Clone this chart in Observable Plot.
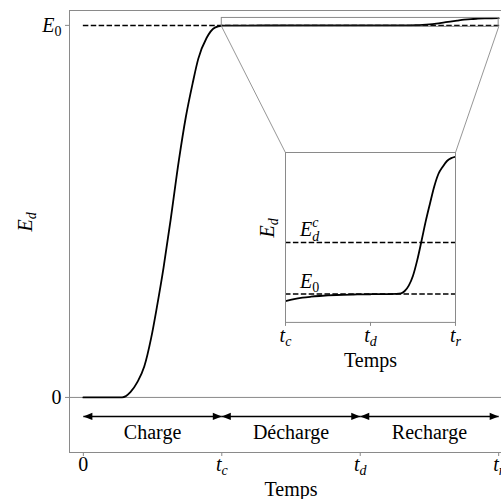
<!DOCTYPE html>
<html><head><meta charset="utf-8">
<script src="https://cdn.jsdelivr.net/npm/d3@7"></script>
<script src="https://cdn.jsdelivr.net/npm/@observablehq/plot@0.6"></script>
<style>
html,body{margin:0;padding:0;background:#fff;}
#wrap{position:relative;width:501px;height:499px;overflow:hidden;background:#fff;}
#wrap svg{font-family:"Liberation Serif",serif;max-width:none !important;}
</style></head><body><div id="wrap"></div>
<script>
// ---- data ----
const chargeT = [0, 0.15, 0.28, 0.34, 0.39, 0.44, 0.49, 0.53, 0.58, 0.63, 0.69, 0.74, 0.79, 0.83, 0.89, 0.95];
const chargeE = [0, 0, 0, 0.014, 0.041, 0.083, 0.16, 0.24, 0.35, 0.476, 0.637, 0.753, 0.845, 0.91, 0.966, 0.994];
const recT = [1.0, 1.1, 1.2, 1.3, 1.4, 1.5, 1.6, 1.8, 2.0, 2.2, 2.3, 2.36, 2.4, 2.45, 2.5, 2.55, 2.6, 2.65, 2.7, 2.75, 2.8, 2.85, 2.9, 2.95, 3.0];
const recE = [0.999, 0.9993, 0.9995, 0.99963, 0.99973, 0.99981, 0.99987, 0.99994, 0.99998, 1.0, 1.00003, 1.0001, 1.0004, 1.0012, 1.0026, 1.0048, 1.0075, 1.0103, 1.0128, 1.0152, 1.0170, 1.0180, 1.0188, 1.0192, 1.0194];
const E0 = 1;
const Edc = 1.0073;
const phaseLabels = ["Charge", "Décharge", "Recharge"];
const phaseStart = [0, 1, 2];
const phaseEnd = [1, 2, 3];
const mainTicks = [0, 1, 2, 3];
const mainTickLabels = ["0", "t_c", "t_d", "t_r"];
const yTicks = [0, E0];
const yTickLabels = ["0", "E_0"];
const insetTicks = [1, 2, 3];
const insetTickLabels = ["t_c", "t_d", "t_r"];
const zoomX = [1, 3];
const zoomY = [0.996, 1.02];
const levelLabels = ["E_0", "E_d^c"];
const levelValues = [E0, Edc];

// ---- derived tables ----
const curve = chargeT.map((t, i) => ({t, E: chargeE[i]}))
  .concat(recT.map((t, i) => ({t, E: recE[i]})));
const rec = recT.map((t, i) => ({t, E: recE[i]}));
const phases = phaseLabels.map((label, i) => ({label, start: phaseStart[i], end: phaseEnd[i]}));
const levels = levelLabels.map((label, i) => ({label, v: levelValues[i]}));

// layout constants (in main data coordinates)
const arrowY = -0.051, labelY = -0.094;
const inset = {x1: 1.46, x2: 2.688, y1: 0.2013, y2: 0.658};
const dash = "5.5,2.4";
const gray = "#8a8a8a";
const font = {fontFamily: '"Liberation Serif", serif', fontSize: "20px", color: "black", background: "transparent", overflow: "visible", maxWidth: "none"};

const head = {draw(ctx) { ctx.moveTo(0, 0); ctx.lineTo(-9, -3.6); ctx.lineTo(-9, 3.6); ctx.closePath(); }};
const heads = phases.flatMap(p => [{x: p.start, r: 180}, {x: p.end, r: 0}]);

const connectors = [
  {x1: zoomX[0], y1: zoomY[0], x2: inset.x1, y2: inset.y2},
  {x1: zoomX[1], y1: zoomY[0], x2: inset.x2, y2: inset.y2}
];

const mainPlot = Plot.plot({
  width: 512, height: 499,
  marginLeft: 69, marginRight: 0, marginTop: 10, marginBottom: 47,
  x: {domain: [-0.1, 3.1]},
  y: {domain: [-0.148, 1.04]},
  style: font,
  marks: [
    Plot.ruleY([0], {stroke: gray, strokeWidth: 1}),
    Plot.ruleY([E0], {x1: () => 0, x2: () => 3.1, stroke: "black", strokeDasharray: dash, strokeWidth: 1.5}),
    Plot.line(curve, {x: "t", y: "E", curve: "monotone-x", stroke: "black", strokeWidth: 1.8}),
    Plot.rect([0], {x1: () => zoomX[0], x2: () => zoomX[1], y1: () => zoomY[0], y2: () => zoomY[1], fill: "none", stroke: gray, strokeWidth: 1}),
    Plot.link(connectors, {x1: "x1", y1: "y1", x2: "x2", y2: "y2", stroke: gray, strokeWidth: 0.9}),
    Plot.link(phases, {x1: "start", x2: "end", y1: () => arrowY, y2: () => arrowY, stroke: "black", strokeWidth: 1.5}),
    Plot.dot(heads, {x: "x", y: () => arrowY, rotate: "r", symbol: head, fill: "black", stroke: "none"}),
    Plot.text(phases, {x: d => (d.start + d.end) / 2, y: () => labelY, text: "label", fill: "black"}),
    Plot.frame({stroke: gray}),
    Plot.axisX(mainTicks, {tickFormat: d => mainTickLabels[mainTicks.indexOf(d)], tickSize: 4, tickPadding: 0, stroke: gray, fill: "black", label: null}),
    Plot.axisY(yTicks, {tickFormat: d => yTickLabels[yTicks.indexOf(d)], tickSize: 4, tickPadding: 4, stroke: gray, fill: "black", label: null}),
    Plot.text(["Temps"], {frameAnchor: "bottom", lineAnchor: "middle", dy: 37, fill: "black"}),
    Plot.text(["E_d"], {frameAnchor: "left", dx: -44, rotate: -90, fill: "black"})
  ]
});

const wrap = document.getElementById("wrap");
wrap.appendChild(mainPlot);
mainPlot.style.maxWidth = "none";

const xs = mainPlot.scale("x"), ys = mainPlot.scale("y");
const px1 = xs.apply(inset.x1), px2 = xs.apply(inset.x2);
const py1 = ys.apply(inset.y2), py2 = ys.apply(inset.y1);
const m = {l: 35, r: 10, t: 5, b: 50};

const insetPlot = Plot.plot({
  width: (px2 - px1) + m.l + m.r, height: (py2 - py1) + m.t + m.b,
  marginLeft: m.l, marginRight: m.r, marginTop: m.t, marginBottom: m.b,
  x: {domain: zoomX},
  y: {domain: zoomY, axis: null},
  style: font,
  marks: [
    Plot.ruleY(levelValues, {stroke: "black", strokeDasharray: dash, strokeWidth: 1.5}),
    Plot.line(rec, {x: "t", y: "E", curve: "monotone-x", stroke: "black", strokeWidth: 1.8, clip: true}),
    Plot.text(levels, {x: () => 1.17, y: "v", text: "label", textAnchor: "start", lineAnchor: "bottom", dy: -6, fill: "black"}),
    Plot.frame({stroke: gray}),
    Plot.axisX(insetTicks, {tickFormat: d => insetTickLabels[insetTicks.indexOf(d)], tickSize: 4, tickPadding: 1, stroke: gray, fill: "black", label: null}),
    Plot.text(["Temps"], {frameAnchor: "bottom", lineAnchor: "middle", dy: 38, fill: "black"}),
    Plot.text(["E_d"], {frameAnchor: "left", dx: -18, rotate: -90, fill: "black"})
  ]
});
insetPlot.style.position = "absolute";
insetPlot.style.maxWidth = "none";
insetPlot.style.left = (px1 - m.l) + "px";
insetPlot.style.top = (py1 - m.t) + "px";
wrap.appendChild(insetPlot);

// render "X_s^p" labels as math-like text with tspans
const re = /^([A-Za-z])_([A-Za-z0-9])(?:\^([A-Za-z0-9]))?$/;
function mathify(root) {
  d3.select(root).selectAll("text").each(function() {
    const s = this.textContent;
    const mm = s.match(re);
    if (!mm) return;
    const sel = d3.select(this);
    sel.text(null);
    sel.append("tspan").attr("font-style", "italic").text(mm[1]);
    sel.append("tspan").attr("font-size", "70%").attr("dy", "0.3em")
      .attr("font-style", /[0-9]/.test(mm[2]) ? "normal" : "italic").text(mm[2]);
    if (mm[3]) sel.append("tspan").attr("font-size", "70%").attr("dx", "-0.5em").attr("dy", "-0.95em")
      .attr("font-style", "italic").text(mm[3]);
  });
}
mathify(mainPlot);
mathify(insetPlot);
</script></body></html>
